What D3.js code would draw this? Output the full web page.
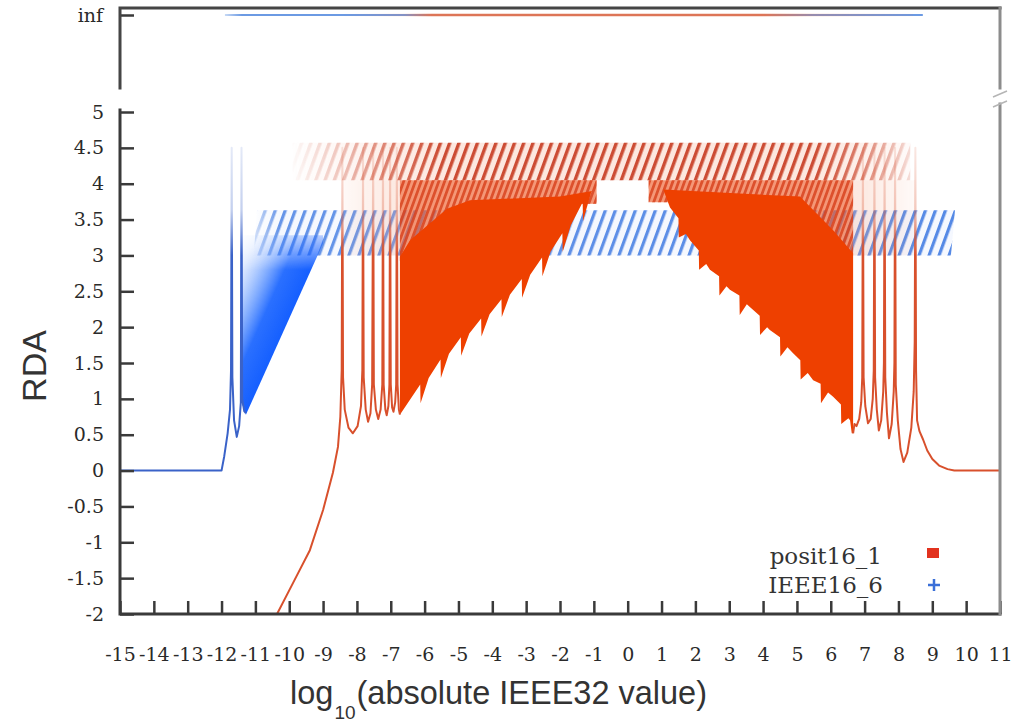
<!DOCTYPE html>
<html>
<head>
<meta charset="utf-8">
<script src="https://cdn.jsdelivr.net/npm/d3@7"></script>
<style>
  html, body { margin: 0; padding: 0; background: #fff; }
  svg { display: block; }
</style>
</head>
<body>
<svg id="chart" width="1015" height="727"></svg>
<script>
// ---- axis ticks -------------------------------------------------------
const xTickValues = [-15,-14,-13,-12,-11,-10,-9,-8,-7,-6,-5,-4,-3,-2,-1,0,1,2,3,4,5,6,7,8,9,10,11];
const yTickValues = [-2,-1.5,-1,-0.5,0,0.5,1,1.5,2,2.5,3,3.5,4,4.5,5];
const infTickLabels = ["inf"];
const seriesNames = ["posit16_1", "IEEE16_6"];

// ---- IEEE16_6 (1 sign, 6 exponent, 9 fraction bits) ------------------
// underflow to zero, then the first subnormal spikes
const ieeeTrace = [
  [-15,0],[-12.0,0],[-11.92,0.2],[-11.82,0.52],[-11.75,0.85],[-11.72,1.4],[-11.70,4.5],
  [-11.68,1.3],[-11.63,0.7],[-11.55,0.47],[-11.48,0.62],[-11.43,0.95],[-11.41,4.5],
  [-11.39,1.0],[-11.33,0.83],[-11.28,0.80]
];
// subnormal wedge
const ieeeWedge = [[-11.45,1.0],[-11.28,0.78],[-9.0,3.17],[-9.0,3.28],[-11.45,3.28]];
// normal range band
const ieeeBand = [[-11.05,3.0],[9.55,3.0],[9.67,3.63],[-10.95,3.63]];
// exactly representable values (RDA = inf)
const ieeeInf = [[-11.9,0],[8.72,0]];

// ---- posit16_1 -------------------------------------------------------
// below minpos: curve from -2 up to the first spikes
const positLeftTrace = [
  [-10.36,-2.0],[-9.89,-1.57],[-9.39,-1.11],[-9.0,-0.55],[-8.71,-0.03],[-8.56,0.33],[-8.49,0.75],
  [-8.45,1.4],[-8.43,4.5],[-8.41,1.3],[-8.36,0.85],[-8.25,0.6],[-8.12,0.52],[-7.98,0.62],
  [-7.88,0.9],[-7.84,1.4],[-7.82,4.5],[-7.80,1.3],[-7.74,0.85],[-7.67,0.68],[-7.60,0.8],
  [-7.55,1.2],[-7.52,4.5],[-7.50,1.2],[-7.44,0.85],[-7.37,0.72],[-7.30,0.85],[-7.25,1.2],
  [-7.23,4.5],[-7.21,1.2],[-7.16,0.85],[-7.12,0.77],[-7.07,0.9],[-7.04,1.2],[-7.02,4.5],
  [-7.00,1.2],[-6.96,0.88],[-6.92,0.82],[-6.87,0.95],[-6.84,1.2],[-6.82,4.5],[-6.80,1.2],
  [-6.76,0.85],[-6.73,0.78]
];
// above maxpos: last spikes then decay to 0
const positRightTrace = [
  [6.66,0.52],[6.70,0.65],[6.76,0.62],[6.84,0.72],[6.90,0.95],[6.93,1.3],[6.95,4.5],
  [6.97,1.3],[7.02,0.9],[7.10,0.66],[7.18,0.72],[7.24,1.0],[7.27,1.4],[7.29,4.5],
  [7.31,1.3],[7.36,0.85],[7.42,0.56],[7.49,0.7],[7.55,1.1],[7.57,1.5],[7.59,4.5],
  [7.61,1.3],[7.66,0.8],[7.72,0.45],[7.80,0.65],[7.86,1.1],[7.88,1.5],[7.90,4.5],
  [7.92,1.2],[7.98,0.7],[8.06,0.3],[8.15,0.12],[8.26,0.25],[8.38,0.6],[8.45,1.1],
  [8.48,1.8],[8.50,4.5],[8.52,1.4],[8.55,0.70],[8.62,0.55],[8.73,0.43],[8.85,0.28],
  [9.0,0.16],[9.2,0.07],[9.45,0.02],[9.65,0.0],[11.0,0.0]
];
// dense region left of 1: top edge, then the saw-tooth lower envelope (bottom to top)
const positSolidLeftTop = [[-6.73,2.98],[-6.43,3.21],[-5.34,3.65],[-4.66,3.77],[-2.0,3.82],[-1.05,3.90]];
const positSolidLeftEdge = [
  [-6.73,0.78],
  [-6.13,1.20],[-6.12,0.94],[-5.88,1.29],
  [-5.53,1.55],[-5.52,1.29],[-5.28,1.63],
  [-4.93,1.86],[-4.92,1.60],[-4.68,1.91],
  [-4.33,2.12],[-4.32,1.87],[-4.08,2.18],
  [-3.73,2.39],[-3.72,2.14],[-3.48,2.45],
  [-3.13,2.67],[-3.12,2.41],[-2.88,2.73],
  [-2.53,2.97],[-2.52,2.71],[-2.28,3.05],
  [-1.93,3.31],[-1.92,3.05],[-1.68,3.42],
  [-1.33,3.74],[-1.32,3.48],[-1.08,3.88],
  [-1.05,3.90]
];
// dense region right of 1: saw-tooth lower envelope (top to bottom), then top edge back
const positSolidRightEdge = [
  [1.05,3.92],[1.25,3.67],
  [1.50,3.52],[1.51,3.25],[1.72,3.30],[1.84,3.21],
  [2.10,3.07],[2.11,2.80],[2.32,2.88],[2.43,2.80],
  [2.70,2.71],[2.71,2.44],[2.92,2.57],[3.02,2.52],
  [3.30,2.44],[3.31,2.17],[3.52,2.32],[3.61,2.28],
  [3.90,2.16],[3.91,1.89],[4.12,2.00],[4.20,1.96],
  [4.50,1.86],[4.51,1.59],[4.72,1.72],[4.88,1.64],
  [5.10,1.54],[5.11,1.27],[5.32,1.36],[5.48,1.26],
  [5.70,1.21],[5.71,0.94],[5.92,1.09],[6.07,1.03],
  [6.30,0.92],[6.31,0.65],[6.52,0.73],[6.57,0.70],
  [6.62,0.52],[6.66,0.52]
];
const positSolidRightTop = [[6.66,3.03],[6.07,3.35],[5.09,3.82],[1.05,3.92]];
// lighter band above the dense regions
const positDenseLeft = [[-6.73,4.05],[-0.92,4.05],[-0.92,3.72],[-4.66,3.70],[-5.34,3.58],[-6.43,3.12],[-6.73,2.92]];
const positDenseRight = [[0.62,4.05],[6.66,4.05],[6.66,3.0],[6.07,3.3],[5.09,3.74],[0.62,3.74]];
const positFaintLeft = [[-8.45,3.0],[-6.73,3.0],[-6.73,4.05],[-8.45,4.05]];
const positFaintRight = [[6.66,3.0],[8.5,3.0],[8.5,4.05],[6.66,4.05]];
// upper hatched band
const positHatchBand = [[-9.9,4.05],[8.35,4.05],[8.35,4.57],[-9.9,4.57]];
const positInf = [[-8.43,0],[8.43,0]];

// ---- layout -----------------------------------------------------------
const W = 1015, H = 727;
const x = d3.scaleLinear().domain([-15, 11]).range([120, 1000]);
const y = d3.scaleLinear().domain([-2, 5]).range([614, 112]);
const yInf = d3.scalePoint().domain(infTickLabels).range([8, 22]);

const red = "#ee4000", redLine = "#d8502c", redHatch = "#c9432a";
const blueLine = "#3a62c8", blueHatch = "#2f6ee0";
const axisColor = "#3a3a3a";

const svg = d3.select("#chart");
const defs = svg.append("defs");

const path = d3.line().x(d => x(d[0])).y(d => y(d[1]));
const closed = pts => path(pts) + "Z";

// hatch patterns: thin bars rotated into "/" strokes
function hatch(id, color, spacing, width, opacity) {
  const p = defs.append("pattern").attr("id", id)
    .attr("patternUnits", "userSpaceOnUse")
    .attr("width", spacing).attr("height", spacing)
    .attr("patternTransform", "rotate(20)");
  p.append("rect").attr("x", 0).attr("y", 0)
    .attr("width", width).attr("height", spacing)
    .attr("fill", color).attr("fill-opacity", opacity);
}
hatch("blueHatch", blueHatch, 9.4, 3.2, 0.85);
hatch("redHatch", redHatch, 8.7, 3.4, 0.95);
hatch("redHatchDense", "#d8401c", 5.5, 2.8, 0.9);

// horizontal fade masks (sparse sampling toward the range ends)
function fadeMask(id, stops) {
  const g = defs.append("linearGradient").attr("id", id + "G")
    .attr("gradientUnits", "userSpaceOnUse")
    .attr("x1", x.range()[0]).attr("x2", x.range()[1]).attr("y1", 0).attr("y2", 0);
  const span = x.range()[1] - x.range()[0];
  stops.forEach(([v, o]) => g.append("stop")
    .attr("offset", (x(v) - x.range()[0]) / span)
    .attr("stop-color", "#fff").attr("stop-opacity", o));
  const m = defs.append("mask").attr("id", id).attr("maskUnits", "userSpaceOnUse")
    .attr("x", 0).attr("y", 0).attr("width", W).attr("height", H);
  m.append("rect").attr("width", W).attr("height", H).attr("fill", `url(#${id}G)`);
}
fadeMask("blueFade", [[-11.2, 0.1], [-10.3, 0.85], [9.7, 0.95]]);
fadeMask("redFade", [[-10.0, 0.0], [-8.5, 0.3], [-6.8, 0.75], [-5.5, 1.0], [5.5, 1.0], [6.8, 0.7], [8.4, 0.15]]);
fadeMask("sideFade", [[-8.5, 0.2], [-6.7, 0.9], [6.7, 0.9], [8.5, 0.2]]);
fadeMask("infRedFade", [[-8.4, 0.0], [-6.6, 0.2], [-5.8, 0.95], [4.0, 0.95], [5.5, 0.35], [8.4, 0.05]]);
fadeMask("infBlueFade", [[-12.2, 0.0], [-11.4, 0.9], [8.8, 0.9]]);

// vertical fade of spike strokes above the dense area
function vStroke(id, color) {
  const g = defs.append("linearGradient").attr("id", id)
    .attr("gradientUnits", "userSpaceOnUse")
    .attr("x1", 0).attr("x2", 0).attr("y1", y(4.6)).attr("y2", y(3.0));
  g.append("stop").attr("offset", 0).attr("stop-color", color).attr("stop-opacity", 0.12);
  g.append("stop").attr("offset", 0.6).attr("stop-color", color).attr("stop-opacity", 0.3);
  g.append("stop").attr("offset", 1).attr("stop-color", color).attr("stop-opacity", 1);
}
vStroke("redStroke", redLine);
vStroke("blueStroke", blueLine);

// wedge gradient across the lower-right edge of the subnormal region
{
  const a = [x(ieeeWedge[1][0]), y(ieeeWedge[1][1])];
  const b = [x(ieeeWedge[2][0]), y(ieeeWedge[2][1])];
  const mx = (a[0] + b[0]) / 2, my = (a[1] + b[1]) / 2;
  const dx = b[0] - a[0], dy = b[1] - a[1], len = Math.hypot(dx, dy);
  const nx = dy / len, ny = -dx / len; // normal pointing up-left
  const g = defs.append("linearGradient").attr("id", "wedgeGrad")
    .attr("gradientUnits", "userSpaceOnUse")
    .attr("x1", mx).attr("y1", my)
    .attr("x2", mx + nx * 80).attr("y2", my + ny * 80);
  [[0, "#155fff", 1], [0.3, "#1f68ff", 0.95], [0.55, "#4f8cff", 0.6], [0.8, "#9dbfff", 0.32], [1, "#d6e4ff", 0.18]]
    .forEach(([o, c, op]) => g.append("stop").attr("offset", o).attr("stop-color", c).attr("stop-opacity", op));
  // soften the top of the wedge where it meets the band
  const v = defs.append("linearGradient").attr("id", "wedgeTopG")
    .attr("gradientUnits", "userSpaceOnUse")
    .attr("x1", 0).attr("x2", 0).attr("y1", y(3.3)).attr("y2", y(2.8));
  v.append("stop").attr("offset", 0).attr("stop-color", "#fff").attr("stop-opacity", 0.25);
  v.append("stop").attr("offset", 1).attr("stop-color", "#fff").attr("stop-opacity", 1);
  const m = defs.append("mask").attr("id", "wedgeTop").attr("maskUnits", "userSpaceOnUse")
    .attr("x", 0).attr("y", 0).attr("width", W).attr("height", H);
  m.append("rect").attr("width", W).attr("height", H).attr("fill", "url(#wedgeTopG)");
}

// clip for the lower panel
defs.append("clipPath").attr("id", "plotClip").append("rect")
  .attr("x", x(-15)).attr("y", y(5) - 8)
  .attr("width", x(11) - x(-15)).attr("height", y(-2) - y(5) + 8);

const plot = svg.append("g").attr("clip-path", "url(#plotClip)");

// IEEE16_6 layers
plot.append("path").attr("d", closed(ieeeBand)).attr("fill", "#dfe9fb").attr("fill-opacity", 0.35).attr("mask", "url(#blueFade)");
plot.append("path").attr("d", closed(ieeeBand)).attr("fill", "url(#blueHatch)").attr("mask", "url(#blueFade)");
plot.append("path").attr("d", closed(ieeeWedge)).attr("fill", "url(#wedgeGrad)").attr("mask", "url(#wedgeTop)");
plot.append("path").attr("d", path(ieeeTrace)).attr("fill", "none")
  .attr("stroke", "url(#blueStroke)").attr("stroke-width", 2).attr("stroke-linejoin", "round");

// posit16_1 layers
[positFaintLeft, positFaintRight].forEach(p => {
  plot.append("path").attr("d", closed(p)).attr("fill", "#f5a98c").attr("fill-opacity", 0.3).attr("mask", "url(#sideFade)");
});
plot.append("path").attr("d", closed(positHatchBand)).attr("fill", "#fbd0c0").attr("fill-opacity", 0.5).attr("mask", "url(#redFade)");
plot.append("path").attr("d", closed(positHatchBand)).attr("fill", "url(#redHatch)").attr("mask", "url(#redFade)");
[positDenseLeft, positDenseRight].forEach(p => {
  plot.append("path").attr("d", closed(p)).attr("fill", "#f0602e").attr("fill-opacity", 0.72).attr("mask", "url(#sideFade)");
  plot.append("path").attr("d", closed(p)).attr("fill", "url(#redHatchDense)").attr("mask", "url(#sideFade)");
});
plot.append("path")
  .attr("d", closed(positSolidLeftTop.concat(positSolidLeftEdge.slice(0, -1).reverse())))
  .attr("fill", red);
plot.append("path")
  .attr("d", closed(positSolidRightEdge.concat(positSolidRightTop)))
  .attr("fill", red);
[positLeftTrace, positRightTrace].forEach(t => {
  plot.append("path").attr("d", path(t)).attr("fill", "none")
    .attr("stroke", "url(#redStroke)").attr("stroke-width", 2).attr("stroke-linejoin", "round");
});

// ---- axes and frame ---------------------------------------------------
const xAxis = d3.axisBottom(x).tickValues(xTickValues).tickSizeInner(-13).tickSizeOuter(0)
  .tickPadding(34).tickFormat(d => String(d));
const yAxis = d3.axisLeft(y).tickValues(yTickValues).tickSizeInner(-14).tickSizeOuter(0)
  .tickPadding(16).tickFormat(d => String(d));
const infAxis = d3.axisLeft(yInf).tickSizeInner(-14).tickSizeOuter(0).tickPadding(17);

function styleAxis(g) {
  g.select(".domain").remove();
  g.selectAll(".tick line").attr("stroke", axisColor).attr("stroke-width", 2.5);
  g.selectAll(".tick text").attr("fill", "#2a2a2a")
    .style("font-family", "'DejaVu Serif', serif").style("font-size", "19px");
}
svg.append("g").attr("transform", `translate(0,${y(-2)})`).call(xAxis).call(styleAxis);
svg.append("g").attr("transform", `translate(${x(-15)},0)`).call(yAxis).call(styleAxis);
svg.append("g").attr("transform", `translate(${x(-15)},0)`).call(infAxis).call(styleAxis);

const frame = svg.append("g").attr("fill", "none").attr("stroke-linecap", "square");
// top panel
frame.append("path").attr("d", `M${x(-15)},88V8H${x(11)}`).attr("stroke", "#454545").attr("stroke-width", 3);
frame.append("path").attr("d", `M${x(11)},8V88`).attr("stroke", "#8c8c8c").attr("stroke-width", 3);
// lower panel
frame.append("path").attr("d", `M${x(-15)},${y(5) - 2}V${y(-2)}H${x(11)}`).attr("stroke", "#3a3a3a").attr("stroke-width", 3);
frame.append("path").attr("d", `M${x(11)},${y(5) - 8}V${y(-2)}`).attr("stroke", "#8c8c8c").attr("stroke-width", 3);
// axis break marks on the right border
frame.append("path").attr("d", `M${x(11) - 7},97L${x(11) + 7},91M${x(11) - 7},107L${x(11) + 7},101`)
  .attr("stroke", "#b5b5b5").attr("stroke-width", 1.5).attr("stroke-linecap", "butt");

// ---- infinite-RDA lines (top panel) --------------------------------------
const infLine = d3.line().x(d => x(d[0])).y(() => yInf("inf"));
svg.append("path").attr("d", infLine(ieeeInf)).attr("stroke", "#5b8fe0").attr("stroke-width", 2.2)
  .attr("fill", "none").attr("mask", "url(#infBlueFade)");
svg.append("path").attr("d", infLine(positInf)).attr("stroke", "#e4734f").attr("stroke-width", 2.4)
  .attr("fill", "none").attr("mask", "url(#infRedFade)");

// ---- legend ---------------------------------------------------------------
const legend = svg.append("g").style("font-family", "'DejaVu Serif', serif").style("font-size", "23px").attr("fill", "#333");
legend.append("text").attr("x", 882).attr("y", 564).attr("text-anchor", "end").text(seriesNames[0]);
legend.append("text").attr("x", 883).attr("y", 593).attr("text-anchor", "end").text(seriesNames[1]);
legend.append("rect").attr("x", 927).attr("y", 548).attr("width", 12).attr("height", 10).attr("fill", "#e2321e");
legend.append("path").attr("d", "M928,585H940M934,579V591").attr("stroke", "#3a6fd8").attr("stroke-width", 2.5);

// ---- axis titles ------------------------------------------------------------
const titles = svg.append("g").style("font-family", "'Liberation Sans', Arial, sans-serif").attr("fill", "#333");
const xTitle = titles.append("text").attr("x", 290).attr("y", 704).style("font-size", "32.5px");
xTitle.append("tspan").text("log");
xTitle.append("tspan").attr("dx", 1).attr("dy", 15).style("font-size", "19px").text("10");
xTitle.append("tspan").attr("dx", 1).attr("dy", -15).text("(absolute IEEE32 value)");
titles.append("text").attr("transform", "translate(46,366) rotate(-90)").attr("text-anchor", "middle")
  .style("font-size", "34px").text("RDA");
</script>
</body>
</html>
